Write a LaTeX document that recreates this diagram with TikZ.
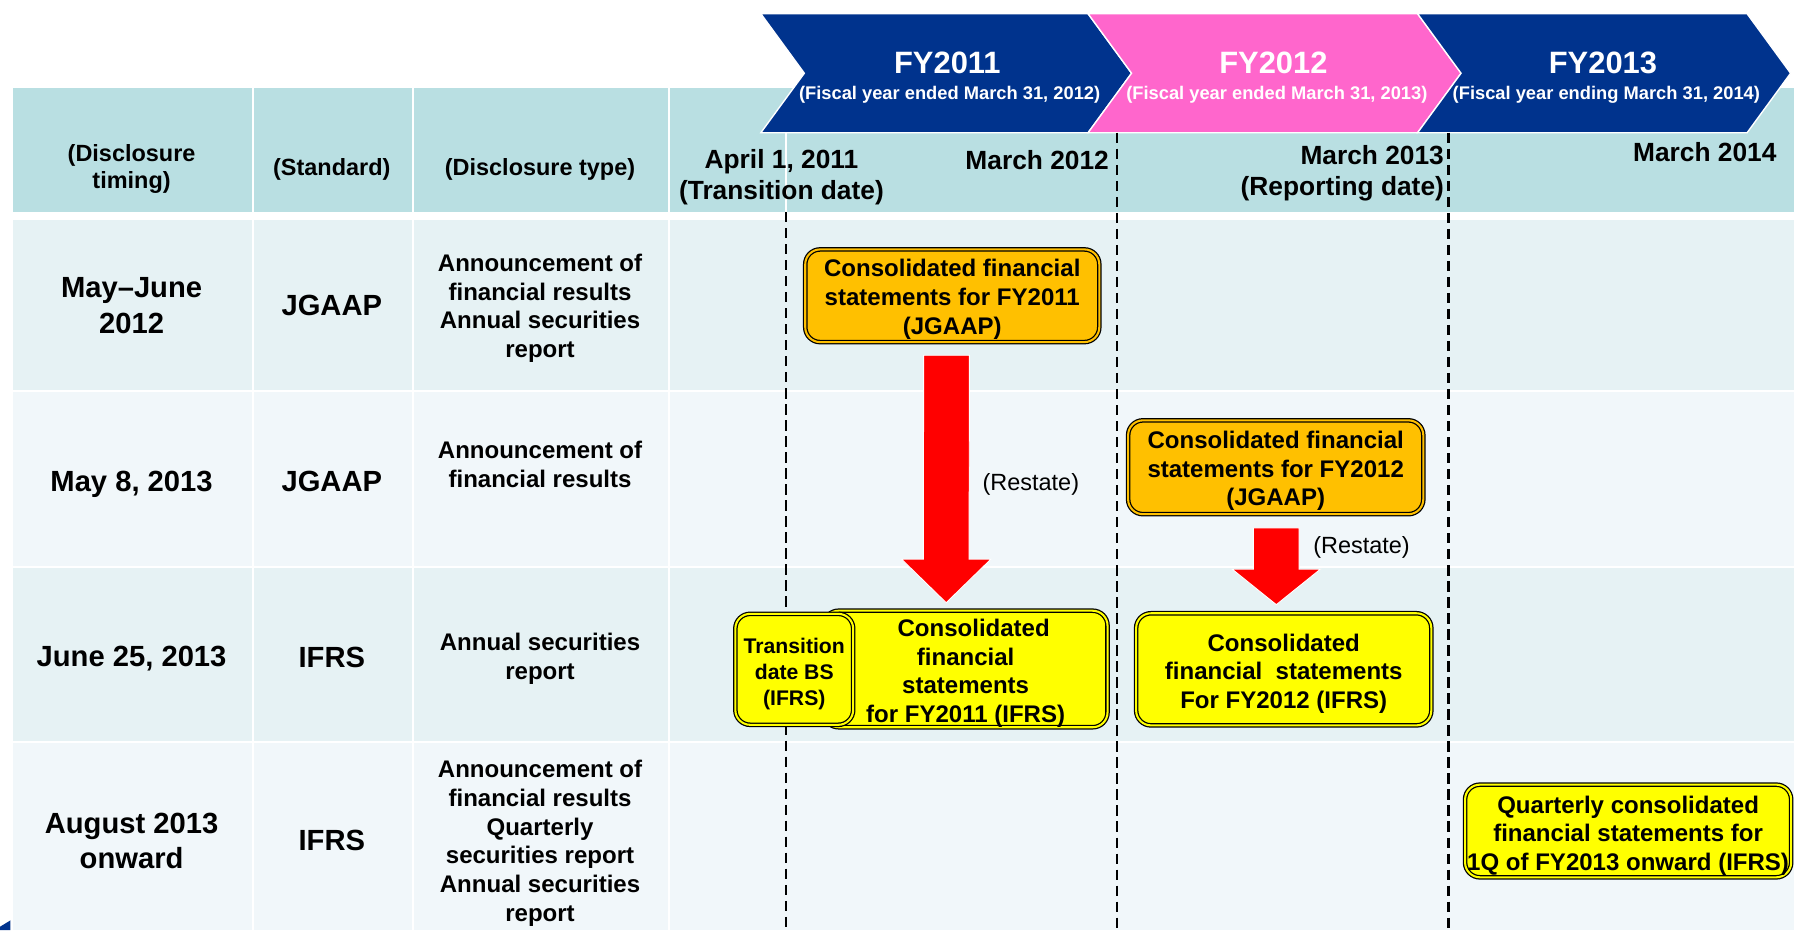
\documentclass[tikz,border=0pt]{standalone}
\usepackage{fontspec}
\setmainfont{Liberation Sans}
\usetikzlibrary{calc}
\definecolor{hdrteal}{HTML}{B9DFE2}
\definecolor{rowA}{HTML}{E6F2F4}
\definecolor{rowB}{HTML}{F1F7FA}
\definecolor{fyblue}{HTML}{00338D}
\definecolor{fypink}{HTML}{FF66CC}
\definecolor{jgaapfill}{HTML}{FFC000}
\definecolor{ifrsfill}{HTML}{FFFF00}
\newcommand\fsz[2]{\fontsize{#1}{#2}\selectfont}
% invisible strut that sets the height of a first text line
\newcommand\topline[1]{\rule{0pt}{#1}}
\begin{document}
\begin{tikzpicture}[x=1pt,y=-1pt,
  every node/.style={inner sep=0pt, outer sep=0pt},
  chev/.style={draw=white, line width=1.2pt},
  fytitle/.style={text=white, font=\bfseries\fsz{27}{30}},
  fysub/.style={text=white, font=\bfseries\fsz{16}{18}},
  hdr/.style={align=center, font=\bfseries\fsz{20.5}{24}},
  datelbl/.style={align=center, font=\bfseries\fsz{23}{27}},
  timelbl/.style={align=center, font=\bfseries\fsz{25.5}{31}},
  typelbl/.style={align=center, font=\bfseries\fsz{21}{25.2}},
  stmt/.style={draw=black, line width=1.1pt, double distance=1.8pt,
    rounded corners=13pt, align=center, font=\bfseries\fsz{21}{25}},
  jgaapbox/.style={stmt, fill=jgaapfill, double=jgaapfill},
  ifrsbox/.style={stmt, fill=ifrsfill, double=ifrsfill},
  restate/.style={font=\fsz{20.5}{24}},
  period/.style={black, line width=1.8pt, dash pattern=on 9pt off 5pt},
  blockarrow/.style={fill=red, draw=white, line width=0.8pt}
]
\useasboundingbox (0,0) rectangle (1568,813);
\fill[white] (0,0) rectangle (1568,813);

% header row
\fill[hdrteal] (11,76.5) rectangle (220,185.3);
\fill[hdrteal] (222,76.5) rectangle (359.8,185.3);
\fill[hdrteal] (361.9,76.5) rectangle (583.6,185.3);
\fill[hdrteal] (585.6,76.5) rectangle (1568,185.3);

% body rows
\foreach \ya/\yb/\c in {192.3/340.9/rowA, 342.9/494.5/rowB, 496.5/647.4/rowA, 649.4/813/rowB}{
  \fill[\c] (11,\ya) rectangle (220,\yb);
  \fill[\c] (222,\ya) rectangle (359.8,\yb);
  \fill[\c] (361.9,\ya) rectangle (583.6,\yb);
  \fill[\c] (585.6,\ya) rectangle (1568,\yb);
}

% corner fragment
\fill[fyblue] (0,810) -- (9,804.5) -- (9,813) -- (0,813) -- cycle;

% fiscal-year chevrons
\filldraw[fyblue, chev] (665,12) -- (951,12) -- (989,64) -- (951,116) -- (665,116) -- (703,64) -- cycle;
\filldraw[fypink, chev] (951,12) -- (1239,12) -- (1277,64) -- (1239,116) -- (951,116) -- (989,64) -- cycle;
\filldraw[fyblue, chev] (1239,12) -- (1527,12) -- (1565,64) -- (1527,116) -- (1239,116) -- (1277,64) -- cycle;
\node[fytitle] (fy11) at (828,55) {FY2011};
\node[fysub] (fy11s) at (830,83) {(Fiscal year ended March 31, 2012)};
\node[fytitle] (fy12) at (1113,55) {FY2012};
\node[fysub] (fy12s) at (1116,83) {(Fiscal year ended March 31, 2013)};
\node[fytitle] (fy13) at (1401,55) {FY2013};
\node[fysub] (fy13s) at (1404,83) {(Fiscal year ending March 31, 2014)};

% period boundaries
\draw[white, line width=1.5pt] (687,116) -- (687,185.3);
\draw[period] (687,185.3) -- (687,813);
\draw[period] (976,116) -- (976,813);
\draw[period] (1266,116) -- (1266,813);

% header labels
\node[hdr] (hTiming) at (115,147.5) {(Disclosure\\timing)};
\node[hdr] (hStd) at (290,148) {(Standard)};
\node[hdr] (hType) at (472,148) {(Disclosure type)};
\node[datelbl] (dApr) at (683,155) {April 1, 2011\\(Transition date)};
\node[datelbl] (dM12) at (906.5,139.5) {March 2012};
\node[datelbl, align=right, anchor=east] (dM13) at (1262,151.5) {March 2013\\(Reporting date)};
\node[datelbl] (dM14) at (1490,133) {March 2014};

% row labels
\node[timelbl] (t1) at (115,267) {May–June\\2012};
\node[timelbl] (s1) at (290,267) {JGAAP};
\node[typelbl] (k1) at (472,269.5) {Announcement of\\financial results\\Annual securities\\report};
\node[timelbl] (t2) at (115,423) {May 8, 2013};
\node[timelbl] (s2) at (290,421) {JGAAP};
\node[typelbl] (k2) at (472,406) {Announcement of\\financial results};
\node[timelbl] (t3) at (115,576) {June 25, 2013};
\node[timelbl] (s3) at (290,575) {IFRS};
\node[typelbl] (k3) at (472,576) {Annual securities\\report};
\node[timelbl] (t4) at (115,735) {August 2013\\onward};
\node[timelbl] (s4) at (290,735) {IFRS};
\node[typelbl] (k4) at (472,737) {Announcement of\\financial results\\Quarterly\\securities report\\Annual securities\\report};

% statements
\node[jgaapbox, minimum width=257pt, minimum height=81pt] (fs11j) at (832.3,258.5)
  {\topline{21.5pt}Consolidated financial\\statements for FY2011\\(JGAAP)};
\node[jgaapbox, minimum width=258pt, minimum height=82pt] (fs12j) at (1115,408.4)
  {\topline{21.5pt}Consolidated financial\\statements for FY2012\\(JGAAP)};
\node[ifrsbox, minimum width=248pt, minimum height=98pt] (fs11i) at (844,584.7)
  {\topline{22.5pt}\hspace*{14pt}Consolidated\\financial\\statements\\for FY2011 (IFRS)};
\node[ifrsbox, minimum width=103pt, minimum height=97pt, font=\bfseries\fsz{18.5}{23}] (tbs) at (694.2,585)
  {\topline{21.5pt}Transition\\date BS\\(IFRS)};
\node[ifrsbox, minimum width=258pt, minimum height=98pt] (fs12i) at (1122,585)
  {\topline{22.5pt}Consolidated\\financial\ \ statements\\For FY2012 (IFRS)};
\node[ifrsbox, minimum width=285pt, minimum height=81pt] (q13) at (1423,726.3)
  {\topline{23.3pt}Quarterly consolidated\\financial statements for\\1Q of FY2013 onward (IFRS)};

% restatement arrows
\coordinate (r1a) at ($(fs11j.south)+(-5,11.5)$);
\coordinate (r1b) at ($(fs11i.north)+(-17,-7)$);
\filldraw[blockarrow] ($(r1a)+(-20,0)$) -- ($(r1a)+(20,0)$) -- ($(r1b)+(20,-38)$) -- ($(r1b)+(39,-38)$)
  -- (r1b) -- ($(r1b)+(-39,-38)$) -- ($(r1b)+(-20,-38)$) -- cycle;
\coordinate (r2a) at ($(fs12j.south)+(0.5,12)$);
\coordinate (r2b) at ($(fs12i.north)+(-6.5,-7.5)$);
\filldraw[blockarrow] ($(r2a)+(-20,0)$) -- ($(r2a)+(20,0)$) -- ($(r2b)+(20,-31)$) -- ($(r2b)+(38.5,-31)$)
  -- (r2b) -- ($(r2b)+(-38.5,-31)$) -- ($(r2b)+(-20,-31)$) -- cycle;
\node[restate] (rs1) at (901,423.5) {(Restate)};
\node[restate] (rs2) at (1190,478.5) {(Restate)};
\end{tikzpicture}
\end{document}
